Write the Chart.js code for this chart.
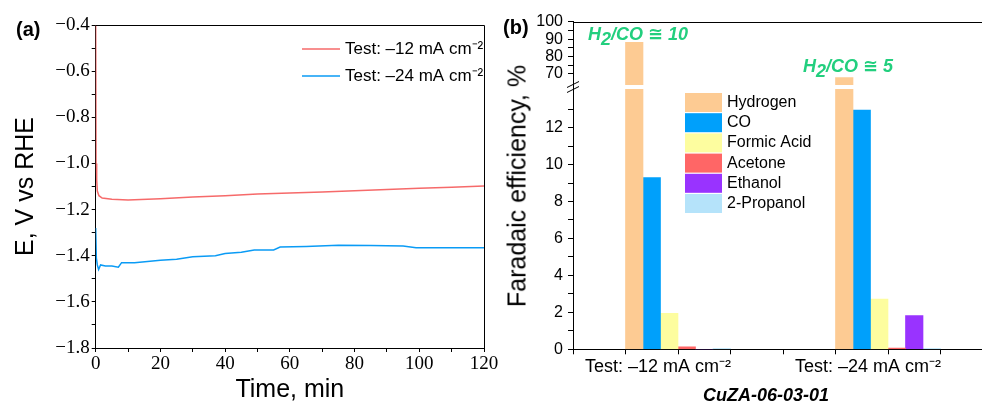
<!DOCTYPE html>
<html lang="pt">
<head>
<meta charset="utf-8">
<title>Potencial e eficiência faradaica</title>
<script src="https://cdn.jsdelivr.net/npm/chart.js@4.4.1/dist/chart.umd.min.js"></script>
<style>
    html, body { margin: 0; padding: 0; background: #fff; overflow: hidden; }
    body { width: 982px; height: 403px; position: relative; font-family: "Liberation Sans", Arial, "DejaVu Sans", sans-serif; }
    .painel { position: absolute; top: 0; height: 403px; }
    #painel-a { left: 0; width: 500px; }
    #painel-b { left: 490px; width: 520px; }
    .texto { position: absolute; white-space: nowrap; line-height: 1; color: #000; }
    .rotulo { font-weight: bold; font-size: 20px; }
    .razao { font-weight: bold; font-style: italic; font-size: 18px; color: #22CF7E; }
    .razao sub { font-size: 18px; vertical-align: baseline; position: relative; top: 5px; }
</style>
</head>
<body>
<div class="painel" id="painel-a"><canvas id="potencial-chart"></canvas></div>
<div class="painel" id="painel-b"><canvas id="eficiencia-chart"></canvas></div>

<div class="texto rotulo" style="left:16px; top:19px;">(a)</div>
<div class="texto rotulo" style="left:503px; top:17px;">(b)</div>
<div class="texto razao" style="left:588px; top:25px;">H<sub>2</sub>/CO ≅ 10</div>
<div class="texto razao" style="left:803px; top:57px;">H<sub>2</sub>/CO ≅ 5</div>
<div class="texto" style="left:517px; top:186px; font-size:25px; transform: translate(-50%, -50%) rotate(-90deg);">Faradaic efficiency, %</div>
<div class="texto" style="left:703px; top:386px; font-size:18px; font-weight:bold; font-style:italic;">CuZA-06-03-01</div>

<script>
// Painel (a): potencial ao longo do tempo
const serie12 = 'Test: –12 mA cm⁻²';
const serie24 = 'Test: –24 mA cm⁻²';
const tempo12 = [0, 0.1, 0.3, 0.5, 1, 2, 5, 10, 20, 30, 40, 50, 60, 70, 80, 90, 100, 110, 120];
const potencial12 = [-0.40, -1.00, -1.07, -1.12, -1.14, -1.15, -1.155, -1.158, -1.153, -1.145, -1.14, -1.133, -1.128, -1.124, -1.118, -1.113, -1.108, -1.103, -1.098];
const tempo24 = [0, 0.2, 0.5, 0.9, 1.5, 3, 5, 7, 8, 12, 20, 25, 30, 37, 40, 45, 49, 55, 57, 65, 75, 85, 95, 99, 120];
const potencial24 = [-1.28, -1.41, -1.44, -1.46, -1.44, -1.445, -1.445, -1.45, -1.43, -1.43, -1.42, -1.415, -1.405, -1.40, -1.39, -1.385, -1.375, -1.375, -1.362, -1.36, -1.355, -1.356, -1.358, -1.365, -1.365];

// Painel (b): eficiência faradaica por produto
const condicoes = ['Test: –12 mA cm⁻²', 'Test: –24 mA cm⁻²'];
const produtos = ['Hydrogen', 'CO', 'Formic Acid', 'Acetone', 'Ethanol', '2-Propanol'];
const hidrogenio = [88.2, 67.9];
const monoxido = [9.3, 12.95];
const acidoFormico = [1.95, 2.72];
const acetona = [0.14, 0.07];
const etanol = [0, 1.82];
const propanol = [0.04, 0.04];
const coresProdutos = ['#FDCB93', '#00A0FB', '#FDFD9F', '#FF6666', '#9933FF', '#B5E3FA'];

const fonteSerifa = "'Liberation Serif', 'Times New Roman', serif";
const fonteSans = "'Liberation Sans', Arial, sans-serif";

// Legenda desenhada dentro da área do gráfico
const legendaManual = {
    id: 'legendaManual',
    afterDraw(chart, args, opts) {
        const ctx = chart.ctx;
        ctx.save();
        ctx.font = opts.font;
        ctx.textBaseline = 'middle';
        let y = opts.y;
        chart.data.datasets.forEach(ds => {
            if (ds.semLegenda) return;
            if (opts.tipo === 'linha') {
                ctx.strokeStyle = ds.borderColor;
                ctx.lineWidth = ds.borderWidth;
                ctx.beginPath();
                ctx.moveTo(opts.x, y);
                ctx.lineTo(opts.x + opts.largura, y);
                ctx.stroke();
            } else {
                ctx.fillStyle = ds.backgroundColor;
                ctx.fillRect(opts.x, y - opts.altura / 2, opts.largura, opts.altura);
            }
            ctx.fillStyle = '#000';
            ctx.fillText(ds.label, opts.x + opts.largura + opts.espaco, y);
            y += opts.passo;
        });
        ctx.restore();
    }
};

// Moldura (topo e direita) e marca de quebra do eixo
const moldura = {
    id: 'moldura',
    afterDatasetsDraw(chart, args, opts) {
        const {ctx, chartArea: a} = chart;
        ctx.save();
        ctx.strokeStyle = '#000';
        ctx.lineWidth = 1;
        ctx.beginPath();
        ctx.moveTo(a.left, Math.round(a.top) + 0.5);
        ctx.lineTo(Math.round(a.right) + 0.5, Math.round(a.top) + 0.5);
        ctx.lineTo(Math.round(a.right) + 0.5, a.bottom);
        ctx.stroke();
        if (opts.quebra) {
            const yq = chart.scales.ySup.bottom;
            const xq = a.left;
            ctx.beginPath();
            [-2.5, 2.5].forEach(d => {
                ctx.moveTo(xq - 6, yq + d + 3);
                ctx.lineTo(xq + 6, yq + d - 3);
            });
            ctx.stroke();
        }
        ctx.restore();
    }
};

const eixoPreto = { color: '#000', width: 1 };

function initPainelA() {
    const ctxPotencial = document.getElementById('potencial-chart');
    new Chart(ctxPotencial, {
        type: 'line',
        data: {
            datasets: [
                {
                    label: serie12,
                    data: tempo12.map((t, i) => ({ x: t, y: potencial12[i] })),
                    borderColor: '#F66A6A',
                    borderWidth: 1.5,
                    pointRadius: 0,
                    tension: 0
                },
                {
                    label: serie24,
                    data: tempo24.map((t, i) => ({ x: t, y: potencial24[i] })),
                    borderColor: '#0A9BF5',
                    borderWidth: 1.5,
                    pointRadius: 0,
                    tension: 0
                }
            ]
        },
        options: {
            responsive: true,
            maintainAspectRatio: false,
            animation: false,
            events: [],
            layout: { padding: { top: 25, right: 16, bottom: 0, left: 0 } },
            scales: {
                x: {
                    type: 'linear',
                    min: 0,
                    max: 120,
                    afterFit: s => { s.height = 55; },
                    grid: { drawOnChartArea: false, tickLength: 4, color: '#000' },
                    border: eixoPreto,
                    ticks: {
                        stepSize: 10,
                        autoSkip: false,
                        maxRotation: 0,
                        padding: 1,
                        color: '#000',
                        font: { family: fonteSerifa, size: 19 },
                        callback: v => v % 20 === 0 ? v : ''
                    },
                    title: {
                        display: true,
                        text: 'Time, min',
                        color: '#000',
                        font: { family: fonteSans, size: 25, lineHeight: 1 },
                        padding: { top: 0, bottom: 0 }
                    }
                },
                y: {
                    min: -1.8,
                    max: -0.4,
                    afterFit: s => { s.width = 95.7; },
                    grid: { drawOnChartArea: false, tickLength: 4, color: '#000' },
                    border: eixoPreto,
                    ticks: {
                        stepSize: 0.1,
                        autoSkip: false,
                        padding: 2,
                        color: '#000',
                        font: { family: fonteSerifa, size: 19 },
                        callback: v => {
                            const d = Math.round(v * 10);
                            return d % 2 === 0 ? '−' + Math.abs(d / 10).toFixed(1) : '';
                        }
                    },
                    title: {
                        display: true,
                        text: 'E, V vs RHE',
                        color: '#000',
                        font: { family: fonteSans, size: 25, lineHeight: 1.2 },
                        padding: { top: 11, bottom: 0 }
                    }
                }
            },
            plugins: {
                legend: { display: false },
                tooltip: { enabled: false },
                legendaManual: {
                    tipo: 'linha', x: 302, y: 49, largura: 38, passo: 27, espaco: 5,
                    font: '17px ' + fonteSans
                }
            }
        },
        plugins: [moldura, legendaManual]
    });
}

function initPainelB() {
    const valores = [hidrogenio, monoxido, acidoFormico, acetona, etanol, propanol];
    const datasets = produtos.map((nome, k) => {
        const ds = {
            label: nome,
            data: valores[k].map((v, i) => ({ x: i + 1, y: v })),
            backgroundColor: coresProdutos[k],
            yAxisID: 'yInf'
        };
        if (k === 0) {
            // hidrogênio aparece nos dois trechos do eixo quebrado
            ds.stack = 'h';
            ds.clip = { left: 0, right: 0, top: -2, bottom: 0 };
        }
        return ds;
    });
    datasets.push({
        label: produtos[0],
        data: hidrogenio.map((v, i) => ({ x: i + 1, y: v })),
        backgroundColor: coresProdutos[0],
        yAxisID: 'ySup',
        stack: 'h',
        clip: { left: 0, right: 0, top: 0, bottom: -2 },
        semLegenda: true
    });

    const ctxEficiencia = document.getElementById('eficiencia-chart');
    new Chart(ctxEficiencia, {
        type: 'bar',
        data: { datasets: datasets },
        options: {
            responsive: true,
            maintainAspectRatio: false,
            animation: false,
            events: [],
            datasets: { bar: { barThickness: 17.5 } },
            layout: { padding: { top: 21.7, right: 17, bottom: 0, left: 0 } },
            scales: {
                x: {
                    type: 'linear',
                    min: 0.5,
                    max: 2.5,
                    offset: false,
                    afterFit: s => { s.height = 53.7; },
                    grid: { offset: false, drawOnChartArea: false, tickLength: 5, color: '#000' },
                    border: eixoPreto,
                    ticks: {
                        stepSize: 0.25,
                        autoSkip: false,
                        maxRotation: 0,
                        padding: 2,
                        labelOffset: -20,
                        color: '#000',
                        font: { family: fonteSans, size: 18 },
                        callback: v => Number.isInteger(v) ? condicoes[v - 1] : ''
                    }
                },
                yInf: {
                    type: 'linear',
                    position: 'left',
                    stack: 'fe',
                    stackWeight: 262.3,
                    stacked: false,
                    min: 0,
                    max: 14.2,
                    afterFit: s => { s.width = 83; },
                    afterBuildTicks: s => { s.ticks = s.ticks.filter(t => t.value <= 13); },
                    grid: { drawOnChartArea: false, tickLength: 5, color: '#000' },
                    border: eixoPreto,
                    ticks: {
                        stepSize: 1,
                        autoSkip: false,
                        padding: 5,
                        color: '#000',
                        font: { family: fonteSans, size: 16 },
                        callback: v => v % 2 === 0 ? v : ''
                    }
                },
                ySup: {
                    type: 'linear',
                    position: 'left',
                    stack: 'fe',
                    stackWeight: 65.3,
                    stacked: false,
                    min: 62.5,
                    max: 100,
                    afterFit: s => { s.width = 83; },
                    afterBuildTicks: s => { s.ticks = s.ticks.filter(t => t.value >= 65); },
                    grid: { drawOnChartArea: false, tickLength: 5, color: '#000' },
                    border: eixoPreto,
                    ticks: {
                        stepSize: 5,
                        autoSkip: false,
                        padding: 5,
                        color: '#000',
                        font: { family: fonteSans, size: 16 },
                        callback: v => v % 10 === 0 ? v : ''
                    }
                }
            },
            plugins: {
                legend: { display: false },
                tooltip: { enabled: false },
                moldura: { quebra: true },
                legendaManual: {
                    tipo: 'caixa', x: 195, y: 102.5, largura: 37, altura: 19, passo: 20.2, espaco: 5,
                    font: '16px ' + fonteSans
                }
            }
        },
        plugins: [moldura, legendaManual]
    });
}

initPainelA();
initPainelB();
</script>
</body>
</html>
